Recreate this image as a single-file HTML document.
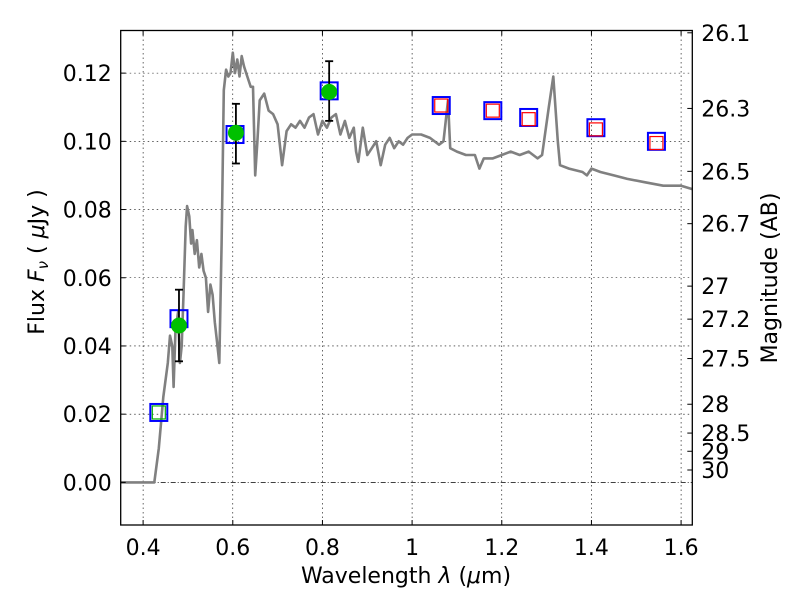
<!DOCTYPE html>
<html><head><meta charset="utf-8"><style>
body{margin:0;background:#fff;position:relative;width:800px;height:600px;overflow:hidden}
svg text{font-family:"DejaVu Sans","Liberation Sans",sans-serif;fill:#000;}
#chart,#titles{position:absolute;left:0;top:0}
</style></head><body>
<svg id="chart" width="800" height="600" xmlns="http://www.w3.org/2000/svg">
<g id="grid"></g>
<g id="plot"></g>
<g id="axes"></g>
</svg>
<script>
const specLam=[0.35,0.425,0.435,0.445,0.455,0.46,0.465,0.468,0.472,0.478,0.482,0.486,0.49,0.495,0.498,0.503,0.507,0.51,0.515,0.52,0.525,0.53,0.535,0.54,0.545,0.55,0.555,0.56,0.565,0.57,0.575,0.58,0.585,0.59,0.595,0.60,0.605,0.61,0.615,0.62,0.625,0.63,0.64,0.645,0.65,0.655,0.66,0.67,0.68,0.69,0.70,0.71,0.72,0.73,0.74,0.75,0.76,0.77,0.78,0.79,0.80,0.81,0.82,0.83,0.84,0.85,0.86,0.87,0.875,0.88,0.89,0.9,0.91,0.92,0.93,0.94,0.95,0.96,0.97,0.98,0.99,1.0,1.02,1.04,1.06,1.07,1.08,1.085,1.1,1.12,1.14,1.15,1.16,1.18,1.2,1.22,1.24,1.26,1.28,1.29,1.305,1.315,1.325,1.33,1.35,1.38,1.39,1.40,1.42,1.45,1.48,1.52,1.56,1.6,1.625];
const specFlux=[0,0,0.01,0.025,0.035,0.043,0.040,0.028,0.044,0.050,0.035,0.040,0.055,0.075,0.081,0.078,0.070,0.074,0.067,0.071,0.063,0.067,0.062,0.060,0.050,0.058,0.055,0.047,0.041,0.035,0.070,0.115,0.121,0.119,0.120,0.126,0.120,0.124,0.119,0.125,0.122,0.120,0.116,0.116,0.090,0.100,0.112,0.114,0.109,0.108,0.105,0.093,0.103,0.105,0.104,0.106,0.104,0.107,0.108,0.102,0.106,0.104,0.107,0.108,0.102,0.106,0.101,0.104,0.097,0.094,0.104,0.096,0.098,0.100,0.093,0.099,0.101,0.098,0.100,0.099,0.101,0.102,0.102,0.101,0.099,0.100,0.112,0.098,0.097,0.096,0.096,0.092,0.095,0.095,0.096,0.097,0.096,0.097,0.095,0.096,0.110,0.119,0.100,0.093,0.092,0.091,0.090,0.092,0.091,0.090,0.089,0.088,0.087,0.087,0.086];
const modelLam=[0.435,0.48,0.605,0.815,1.065,1.18,1.26,1.41,1.545];
const modelFlux=[0.0205,0.048,0.102,0.1148,0.1105,0.109,0.107,0.104,0.100];
const innerLam=[0.435,1.065,1.18,1.26,1.41,1.545];
const innerFlux=[0.0205,0.1105,0.109,0.1065,0.1035,0.0995];
const innerColor=['#00b000','red','red','red','red','red'];
const obsLam=[0.48,0.607,0.815];
const obsFlux=[0.046,0.1025,0.1145];
const obsLo=[0.0355,0.0935,0.106];
const obsHi=[0.0565,0.111,0.1235];
const xTicks=[0.4,0.6,0.8,1.0,1.2,1.4,1.6];
const xTickLabels=['0.4','0.6','0.8','1','1.2','1.4','1.6'];
const yTicks=[0,0.02,0.04,0.06,0.08,0.10,0.12];
const yTickLabels=['0.00','0.02','0.04','0.06','0.08','0.10','0.12'];
const magTicks=[26.1,26.3,26.5,26.7,27,27.2,27.5,28,28.5,29,30];
const magLabels=['26.1','26.3','26.5','26.7','27','27.2','27.5','28','28.5','29','30'];

const L=120.7,R=692.3,T=30.5,B=525;
const X0=0.35,X1=1.625,Y0=-0.0125,Y1=0.1325;
const sx=v=>L+(v-X0)/(X1-X0)*(R-L);
const sy=v=>B-(v-Y0)/(Y1-Y0)*(B-T);
const NS='http://www.w3.org/2000/svg';
function mk(tag,attrs,parent,txt){const e=document.createElementNS(NS,tag);for(const k in attrs)e.setAttribute(k,attrs[k]);if(txt!==undefined)e.textContent=txt;parent.appendChild(e);return e;}
const grid=document.getElementById('grid'),plot=document.getElementById('plot'),axes=document.getElementById('axes');

xTicks.forEach((t,i)=>{
  const g=mk('line',{x1:sx(t),x2:sx(t),y1:T,y2:B,stroke:'#000','stroke-width':0.6,'stroke-dasharray':'1.5,3'},grid);
  
  
});
yTicks.forEach((t,i)=>{
  if(t===0)return;
  const g=mk('line',{x1:L,x2:R,y1:sy(t),y2:sy(t),stroke:'#000','stroke-width':0.6,'stroke-dasharray':'1.5,3'},grid);
  
  
});
const zl=mk('line',{x1:L,x2:R,y1:sy(0),y2:sy(0),stroke:'#000','stroke-width':0.7,'stroke-dasharray':'5,2,1,2'},grid);



let d='';specLam.forEach((l,i)=>{d+=(i?'L':'M')+sx(l).toFixed(1)+','+sy(specFlux[i]).toFixed(1);});
const sp=mk('path',{d:d,fill:'none',stroke:'#808080','stroke-width':2.6,'stroke-linejoin':'round'},plot);



modelLam.forEach((l,i)=>{
  const r=mk('rect',{x:sx(l)-8.5,y:sy(modelFlux[i])-8.5,width:17,height:17,fill:'none',stroke:'#0000ff','stroke-width':2},plot);
  
  
});
innerLam.forEach((l,i)=>{
  const r=mk('rect',{x:sx(l)-6.5,y:sy(innerFlux[i])-6.5,width:13,height:13,fill:'none',stroke:innerColor[i],'stroke-width':1.2},plot);
  
  
});
obsLam.forEach((l,i)=>{
  const x=sx(l);
  const e=mk('g',{},plot);
  
  
  mk('line',{x1:x,x2:x,y1:sy(obsLo[i]),y2:sy(obsHi[i]),stroke:'#000','stroke-width':1.8},e);
  mk('line',{x1:x-4,x2:x+4,y1:sy(obsLo[i]),y2:sy(obsLo[i]),stroke:'#000','stroke-width':1.8},e);
  mk('line',{x1:x-4,x2:x+4,y1:sy(obsHi[i]),y2:sy(obsHi[i]),stroke:'#000','stroke-width':1.8},e);
  const c=mk('circle',{cx:x,cy:sy(obsFlux[i]),r:8,fill:'#00c000'},plot);
  
  
});

const fr=mk('rect',{x:L,y:T,width:R-L,height:B-T,fill:'none',stroke:'#000','stroke-width':1.3},axes);


xTicks.forEach((t,i)=>{
  mk('line',{x1:sx(t),x2:sx(t),y1:B,y2:B-5,stroke:'#000'},axes);
  mk('line',{x1:sx(t),x2:sx(t),y1:T,y2:T+5,stroke:'#000'},axes);
  const tx=mk('text',{x:sx(t),y:B+30,'text-anchor':'middle','font-size':22},axes,xTickLabels[i]);
  
  
});
yTicks.forEach((t,i)=>{
  mk('line',{x1:L,x2:L+5,y1:sy(t),y2:sy(t),stroke:'#000'},axes);
  const tx=mk('text',{x:L-9,y:sy(t)+8,'text-anchor':'end','font-size':22},axes,yTickLabels[i]);
  
  
});
magTicks.forEach((m,i)=>{
  const f=Math.pow(10,(23.9-m)/2.5);
  const y=sy(f);
  mk('line',{x1:R,x2:R-5,y1:y,y2:y,stroke:'#000'},axes);
  const tx=mk('text',{x:R+9,y:y+8,'font-size':22},axes,magLabels[i]);
  
  
});
</script>
<svg id="titles" width="800" height="600" xmlns="http://www.w3.org/2000/svg">
<text x="406" y="583" text-anchor="middle" font-size="22">Wavelength  <tspan font-style="italic">λ</tspan> (<tspan font-style="italic">μ</tspan>m)</text>
<text transform="translate(44,262) rotate(-90)" text-anchor="middle" font-size="22">Flux  <tspan font-style="italic">F</tspan><tspan font-style="italic" font-size="15" dy="4">ν</tspan><tspan dy="-4">  ( </tspan><tspan font-style="italic">μ</tspan>Jy )</text>
<text transform="translate(777,278) rotate(-90)" text-anchor="middle" font-size="22">Magnitude (AB)</text>
</svg>
</body></html>
